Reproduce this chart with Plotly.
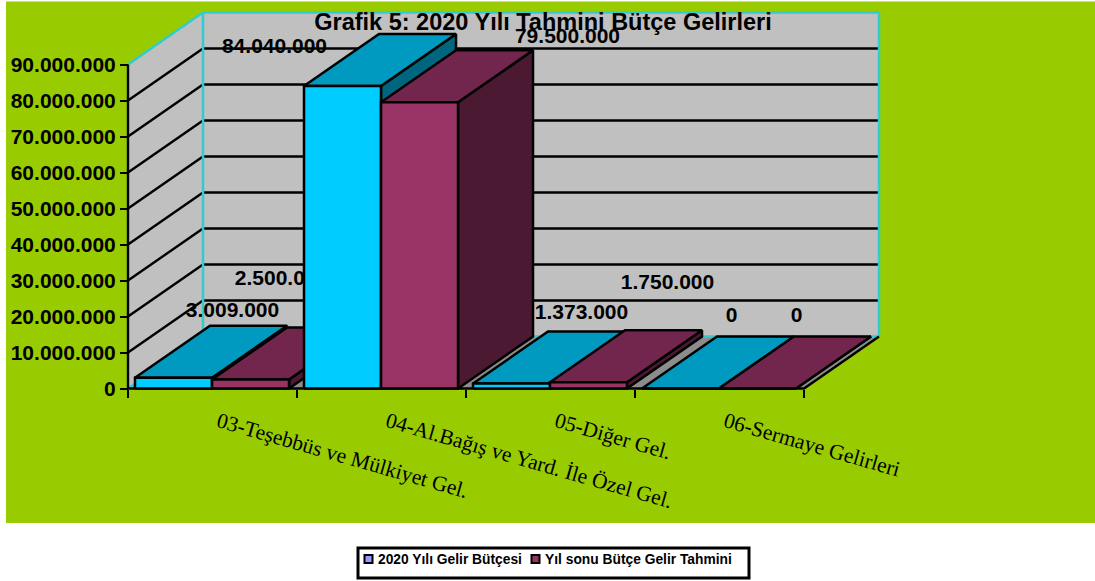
import plotly.graph_objects as go

# ---- data ----
categories = ["03-Teşebbüs ve Mülkiyet Gel.", "04-Al.Bağış ve Yard. İle Özel Gel.",
              "05-Diğer Gel.", "06-Sermaye Gelirleri"]
series_names = ["2020 Yılı Gelir Bütçesi", "Yıl sonu Bütçe Gelir Tahmini"]
budget_2020 = [3009000, 84040000, 1373000, 0]
year_end_estimate = [2500000, 79500000, 1750000, 0]
y_ticks = [0, 10000000, 20000000, 30000000, 40000000, 50000000, 60000000, 70000000, 80000000, 90000000]

# ---- geometry (style) ----
W, H = 1095, 581
PX_X0, PX_Y0 = 128, 388.5        # pixel of category 0 / value 0
PX_CAT, PX_VAL = 169, 36 / 10e6  # px per category, px per unit of value
DX, DY = 75 / PX_CAT, 52 / PX_VAL   # oblique depth, in axis units
GAP, BAR = 7 / PX_CAT, 77 / PX_CAT
x_range = [-PX_X0 / PX_CAT, (W - PX_X0) / PX_CAT]
y_range = [(PX_Y0 - H) / PX_VAL, PX_Y0 / PX_VAL]
YMAX = y_ticks[-1]
NCAT = len(categories)

# label offsets from the bar's front-top centre, in px
label_off = [[(59, -66), (31, -100)], [(-68, -38), (148, -65)],
             [(70, -70), (79, -98)], [(51, -72), (39, -72)]]

PALETTE = [dict(front="#00CCFF", top="#0099BF", side="#00667F", legend="#9999FF"),
           dict(front="#993366", top="#73264D", side="#4C1933", legend="#993366")]
FONT = "Liberation Sans"
EDGE, WALL, FLOOR, GRID, CYAN = "#000000", "#C0C0C0", "#8C8C8C", "#000000", "#33CCCC"


def fmt(v):
    return f"{v:,d}".replace(",", ".")


fig = go.Figure()


def poly(xs, ys, fill, line=EDGE, width=2.5):
    fig.add_trace(go.Scatter(x=xs, y=ys, mode="lines", fill="toself", fillcolor=fill,
                             line=dict(color=line, width=width), hoverinfo="skip", showlegend=False))


def seg(xs, ys, color=GRID, width=2.4):
    fig.add_trace(go.Scatter(x=xs, y=ys, mode="lines", line=dict(color=color, width=width),
                             hoverinfo="skip", showlegend=False))


# walls and floor
poly([0, DX, DX, 0, 0], [0, DY, YMAX + DY, YMAX, 0], WALL, WALL, 0.5)
poly([DX, NCAT + DX, NCAT + DX, DX, DX], [DY, DY, YMAX + DY, YMAX + DY, DY], WALL, WALL, 0.5)
poly([0, NCAT, NCAT + DX, DX, 0], [0, 0, DY, DY, 0], FLOOR, FLOOR, 0.5)

for t in y_ticks[1:-1]:
    seg([0, DX, NCAT + DX], [t, t + DY, t + DY])
seg([0, DX], [YMAX, YMAX + DY], CYAN, 2.5)
seg([DX, NCAT + DX], [YMAX + DY, YMAX + DY], CYAN, 2.5)
seg([DX, DX], [DY, YMAX + DY], CYAN, 2.5)
seg([NCAT + DX, NCAT + DX], [DY, YMAX + DY], CYAN, 2.5)
seg([0, DX, NCAT + DX], [0, DY, DY], CYAN, 2.5)
seg([0, 0], [0, YMAX], EDGE, 2.4)
seg([0, NCAT, NCAT + DX], [0, 0, DY], EDGE, 2.4)

# bars and labels, drawn left to right so later bars overlap earlier labels
all_series = [budget_2020, year_end_estimate]
for c in range(NCAT):
    for s, values in enumerate(all_series):
        v = values[c]
        x0 = c + GAP + s * BAR
        x1 = x0 + BAR
        col = PALETTE[s]
        poly([x1, x1 + DX, x1 + DX, x1, x1], [0, DY, v + DY, v, 0], col["side"])
        poly([x0, x1, x1 + DX, x0 + DX, x0], [v, v, v + DY, v + DY, v], col["top"])
        poly([x0, x1, x1, x0, x0], [0, 0, v, v, 0], col["front"])
        ox, oy = label_off[c][s]
        fig.add_trace(go.Scatter(x=[(x0 + x1) / 2 + ox / PX_CAT], y=[v - oy / PX_VAL], mode="text",
                                 text=[fmt(v)], textposition="middle center",
                                 textfont=dict(family=FONT, size=21, color="#000000", weight="bold"),
                                 hoverinfo="skip", showlegend=False))

# legend, laid out as in the reference (box, swatches, entry texts)
LEG_BOX = (358, 548, 749, 578)
LEG_SWATCH_X = (364.5, 531.5)
LEG_TEXT_X = (376, 543)
LEG_Y = 559
shapes = [dict(type="rect", xref="paper", yref="paper", x0=6 / W, x1=1, y0=1 - 523 / H, y1=1 - 1.5 / H,
               fillcolor="#99CC00", line=dict(width=0), layer="below"),
          dict(type="rect", xref="paper", yref="paper", x0=LEG_BOX[0] / W, x1=LEG_BOX[2] / W,
               y0=1 - LEG_BOX[3] / H, y1=1 - LEG_BOX[1] / H, fillcolor="#FFFFFF",
               line=dict(color="#000000", width=3), layer="below")]
annotations = []
for name, col, sx, tx in zip(series_names, PALETTE, LEG_SWATCH_X, LEG_TEXT_X):
    shapes.append(dict(type="rect", xref="paper", yref="paper", x0=sx / W, x1=(sx + 8) / W,
                       y0=1 - (LEG_Y + 4) / H, y1=1 - (LEG_Y - 4) / H, fillcolor=col["legend"],
                       line=dict(color="#000000", width=2), layer="below"))
    annotations.append(dict(text=f"<b>{name}</b>", xref="paper", yref="paper", x=tx / W, y=1 - LEG_Y / H,
                            xanchor="left", yanchor="middle", showarrow=False,
                            font=dict(family=FONT, size=13.8, color="#000000")))

fig.update_layout(
    width=W, height=H, margin=dict(l=0, r=0, t=0, b=0), showlegend=False,
    paper_bgcolor="#FFFFFF", plot_bgcolor="rgba(0,0,0,0)",
    title=dict(text="<b>Grafik 5: 2020 Yılı Tahmini Bütçe Gelirleri</b>", x=543 / W, y=1 - 22 / H,
               xanchor="center", yanchor="middle", font=dict(family=FONT, size=23.5, color="#000000")),
    xaxis=dict(range=x_range, showgrid=False, zeroline=False, showline=False, anchor="free",
               position=(H - PX_Y0) / H,
               tickmode="array", tickvals=[c + 0.5 + 6 / PX_CAT for c in range(NCAT)], ticktext=categories,
               tickangle=16, ticks="", ticklabelstandoff=16,
               tickfont=dict(family="Liberation Serif", size=21.5, color="#000000"),
               minor=dict(tickmode="array", tickvals=list(range(NCAT + 1)), ticks="outside",
                          ticklen=8, tickwidth=2.4, tickcolor="#000000")),
    yaxis=dict(range=y_range, showgrid=False, zeroline=False, showline=False, anchor="free",
               position=PX_X0 / W,
               tickmode="array", tickvals=y_ticks, ticktext=[fmt(t) for t in y_ticks],
               ticks="outside", ticklen=8, tickwidth=2.4, tickcolor="#000000",
               tickfont=dict(family=FONT, size=21, color="#000000", weight="bold")),
    shapes=shapes, annotations=annotations,
)

fig.write_html("out.html", config={"displayModeBar": False},
               post_script="document.body.style.margin='0';document.body.style.overflow='hidden';")
